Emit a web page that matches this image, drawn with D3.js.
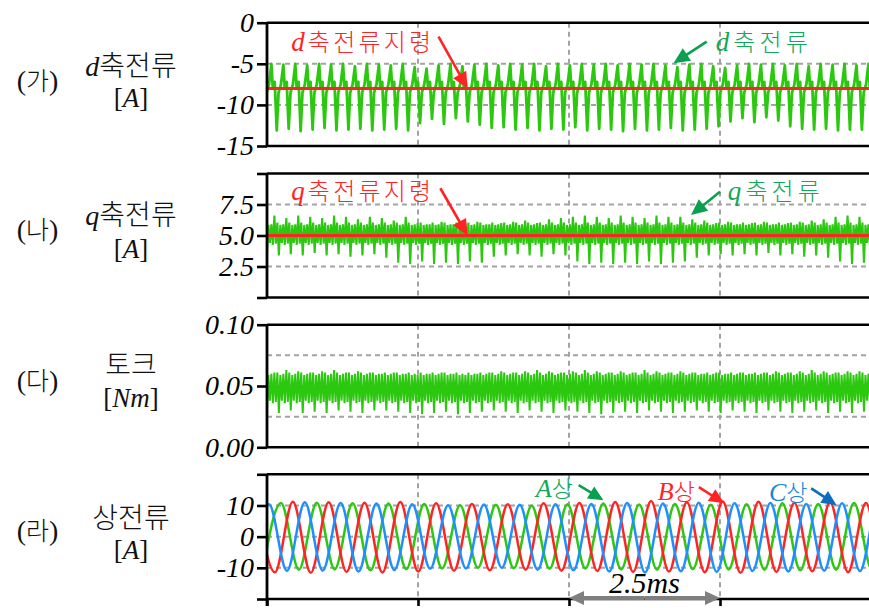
<!DOCTYPE html>
<html>
<head>
<meta charset="utf-8">
<script src="https://cdn.jsdelivr.net/npm/d3@7"></script>
<style>
  body { margin: 0; background: #fff; }
  svg { display: block; }
</style>
</head>
<body>
<svg id="chart" width="869" height="608"></svg>
<script>
// ---- time axis (ms) ----
var timeDomain = [0, 10];
var timeTicks = [0, 2.5, 5, 7.5, 10];
var timeGrid = [2.5, 5, 7.5];

// ripple period and electrical half period (ms)
var rippleMs = 0.1977;
var rippleStartMs = -0.125;
var halfPeriodMs = 0.2965;

// ---- (가) d-axis current [A] ----
var dRef = -8.0;
var dHigh = [-5.2,-5.0,-5.1,-5.0,-5.2,-5.0,-5.1,-5.0,-5.3,-5.0,
             -5.1,-5.2,-5.0,-5.4,-5.6,-5.2,-5.0,-5.3,-5.1,-5.0,
             -5.2,-5.0,-5.1,-5.0,-5.3,-5.0,-5.2,-5.0,-5.1,-5.0,
             -5.2,-5.0,-5.1,-5.0,-5.2,-5.4,-5.1,-5.0,-5.3,-5.5,
             -5.2,-5.0,-5.1,-5.0,-5.2,-5.0,-5.3,-5.0,-5.1,-5.0,
             -5.2,-5.0];
var dLow = [-13.0,-13.1,-12.9,-13.2,-13.0,-12.8,-13.1,-13.0,-12.9,-13.1,
            -13.0,-12.9,-13.1,-12.2,-11.7,-12.3,-11.6,-12.0,-12.4,-12.8,
            -12.7,-13.0,-12.8,-13.1,-12.9,-13.0,-12.7,-13.1,-12.9,-13.0,
            -13.2,-12.9,-13.1,-13.0,-12.8,-13.1,-13.0,-12.9,-12.6,-12.0,
            -11.6,-12.1,-11.5,-11.9,-12.6,-12.9,-13.0,-12.9,-13.1,-13.0,
            -13.0,-12.9];
var dBand = [-8.0, -7.2, -8.5, -7.5];

// ---- (나) q-axis current [A] ----
var qRef = 5.0;
var qHigh = [6.5,6.6,6.4,6.6,6.5,6.4,6.6,6.5,6.3,6.5,
             6.4,6.2,6.5,6.0,5.9,6.1,5.9,6.0,6.1,5.9,
             6.0,6.1,6.2,6.0,6.3,6.4,6.5,6.6,6.5,6.4,
             6.6,6.5,6.4,6.6,6.5,6.5,6.3,6.2,6.0,6.1,
             5.9,6.0,6.1,5.9,6.0,6.1,6.2,6.3,6.5,6.6,
             6.5,6.4];
var qLow = [3.5,3.4,3.5,3.4,3.6,3.4,3.5,3.3,3.4,3.5,
            3.2,2.8,2.7,2.9,2.7,2.8,2.7,2.9,2.8,3.3,
            3.4,3.5,3.4,3.3,3.5,3.4,2.9,2.7,2.8,2.7,
            2.8,2.7,2.9,2.7,2.8,2.9,3.2,3.4,3.5,3.4,
            3.5,3.4,3.6,3.4,3.5,3.3,3.4,3.2,2.9,2.7,
            2.8,2.7];
var qBand = [5.9, 4.25, 4.35, 6.05, 5.85, 4.4];

// ---- (다) torque [Nm] ----
var tqHigh = [0.062,0.061,0.063,0.062,0.061,0.062,0.063,0.061,0.062,0.061,
              0.060,0.061,0.060,0.059,0.060,0.061,0.060,0.059,0.060,0.061,
              0.062,0.061,0.062,0.063,0.062,0.061,0.062,0.063,0.062,0.061,
              0.062,0.061,0.063,0.062,0.061,0.062,0.061,0.060,0.061,0.060,
              0.061,0.060,0.061,0.062,0.061,0.062,0.063,0.062,0.061,0.062,
              0.062,0.061];
var tqLow = [0.029,0.028,0.030,0.028,0.029,0.028,0.030,0.029,0.028,0.030,
             0.030,0.029,0.028,0.027,0.028,0.029,0.027,0.028,0.029,0.030,
             0.029,0.028,0.030,0.029,0.028,0.030,0.029,0.028,0.027,0.028,
             0.029,0.028,0.030,0.029,0.028,0.029,0.030,0.029,0.028,0.030,
             0.029,0.028,0.030,0.029,0.028,0.029,0.030,0.028,0.029,0.028,
             0.029,0.030];
var tqBand = [0.060, 0.036, 0.037, 0.061, 0.059, 0.038];

// ---- (라) phase currents [A]: successive peaks / troughs ----
var phaseStartMs = { A: -0.0655, B: -0.165, C: -0.2635 };
var phaseA = [-10.4,10.8,-10.6,10.9,-10.5,10.7,-10.8,10.6,-10.4,10.5,
              -10.2,10.1,-10.0,10.2,-10.1,9.9,-10.3,10.4,-10.2,10.6,
              -10.5,10.3,-10.6,10.5,-10.4,10.2,-10.5,10.4,-10.6,10.7,
              -10.8,10.5,-10.6,10.8,-10.5,10.6,-10.7];
var phaseB = [10.6,-11.4,11.2,-11.6,11.0,-11.3,10.9,-11.5,11.1,-11.2,
              10.7,-10.9,10.5,-10.8,10.4,-10.6,10.7,-10.9,10.8,-11.0,
              11.1,-11.3,11.4,-11.2,11.0,-11.4,11.3,-11.6,11.2,-11.3,
              10.9,-11.1,11.0,-11.4,10.8,-11.2,11.0];
var phaseC = [-10.8,10.4,-11.0,11.0,-10.9,10.8,-11.2,10.6,-10.7,10.4,
              -10.3,10.1,-10.2,10.3,-10.0,10.2,-10.6,10.4,-10.8,10.5,
              -11.2,10.8,-11.5,10.6,-11.1,10.9,-11.3,10.7,-11.0,10.8,
              -11.2,10.5,-10.9,10.7,-11.0,10.6,-10.8];

var GREEN = "#2cc810", RED = "#ff2424", BLUE = "#1f8fff";
var SERIF = "'Liberation Serif', 'Times New Roman', serif";
var KR = "'Noto Sans CJK KR', sans-serif";

var svg = d3.select("#chart");
var x = d3.scaleLinear().domain(timeDomain).range([267, 871]);

var panels = [
  { id: "p1", domain: [-15, 0], range: [146, 22.7], ticks: [0, -5, -10, -15],
    grid: [-5, -10], fmt: function(d) { return String(d); } },
  { id: "p2", domain: [0, 10], range: [297.5, 173.5], ticks: [10, 7.5, 5, 2.5, 0],
    grid: [7.5, 5, 2.5], fmt: function(d) { return (d === 0 || d === 10) ? "" : d3.format(".1f")(d); } },
  { id: "p3", domain: [0, 0.1], range: [447.3, 324.7], ticks: [0.1, 0.05, 0],
    grid: [0.075, 0.05, 0.025], fmt: d3.format(".2f") },
  { id: "p4", domain: [-20, 20], range: [599, 474.3], ticks: [20, 10, 0, -10, -20],
    grid: [10, 0, -10], fmt: function(d) { return Math.abs(d) === 20 ? "" : String(d); } }
];
panels.forEach(function(p) { p.y = d3.scaleLinear().domain(p.domain).range(p.range); });

function rippleD(high, low, band) {
  var frac = [0, 0.12, 0.28, 0.45, 0.6, 0.8], pts = [];
  high.forEach(function(h, k) {
    var t0 = rippleStartMs + k * rippleMs;
    var vals = [h, band[0], band[1], low[k], band[2], band[3]];
    frac.forEach(function(f, j) { pts.push({ t: t0 + f * rippleMs, v: vals[j] }); });
  });
  return pts;
}
function rippleBand(high, low, band) {
  var pts = [];
  high.forEach(function(h, k) {
    var t0 = rippleStartMs + k * rippleMs;
    var vals = [band[0], band[1], h, band[2], band[3], low[k], band[4], band[5]];
    vals.forEach(function(v, j) { pts.push({ t: t0 + j * rippleMs / 8, v: v }); });
  });
  return pts;
}
function phaseSeries(vals, start) {
  return vals.map(function(v, i) { return { t: start + i * halfPeriodMs, v: v }; });
}

function arrow(g, p1, p2, color, len, w, sw) {
  var dx = p2[0] - p1[0], dy = p2[1] - p1[1], L = Math.hypot(dx, dy);
  var ux = dx / L, uy = dy / L;
  var bx = p2[0] - ux * len, by = p2[1] - uy * len;
  g.append("line").attr("x1", p1[0]).attr("y1", p1[1]).attr("x2", bx + ux).attr("y2", by + uy)
    .attr("stroke", color).attr("stroke-width", sw);
  g.append("path")
    .attr("d", "M" + p2[0] + "," + p2[1] + "L" + (bx - uy * w / 2) + "," + (by + ux * w / 2) +
               "L" + (bx + uy * w / 2) + "," + (by - ux * w / 2) + "Z")
    .attr("fill", color);
}

function mixedText(g, px, py, parts, size, color, anchor, len) {
  var t = g.append("text").attr("x", px).attr("y", py).attr("fill", color)
    .attr("font-size", size).attr("text-anchor", anchor || "start");
  parts.forEach(function(p) {
    var s = t.append("tspan").text(p[0]).attr("font-family", p[1] === "kr" ? KR : SERIF);
    if (p[1] === "kr") s.attr("font-weight", 300);
    if (p[1] === "it") s.attr("font-style", "italic");
    if (p[2]) s.attr("font-size", p[2]);
  });
  if (len) t.attr("textLength", len).attr("lengthAdjust", "spacing");
  return t;
}

var defs = svg.append("defs");

panels.forEach(function(p) {
  var y = p.y, top = p.range[1], bot = p.range[0];
  var g = svg.append("g").attr("class", "panel " + p.id);

  defs.append("clipPath").attr("id", "clip-" + p.id)
    .append("rect").attr("x", x(0)).attr("y", top - 6).attr("width", x(10) - x(0)).attr("height", bot - top + 12);

  // grid
  g.selectAll(".hgrid").data(p.grid).enter().append("line").attr("class", "hgrid")
    .attr("x1", x(0)).attr("x2", x(10)).attr("y1", function(d) { return y(d); }).attr("y2", function(d) { return y(d); })
    .attr("stroke", "#a3a3a3").attr("stroke-width", 2).attr("stroke-dasharray", "5,4");
  g.selectAll(".vgrid").data(timeGrid).enter().append("line").attr("class", "vgrid")
    .attr("x1", function(d) { return x(d); }).attr("x2", function(d) { return x(d); })
    .attr("y1", top).attr("y2", bot)
    .attr("stroke", "#a3a3a3").attr("stroke-width", 2).attr("stroke-dasharray", "5,4");

  var plot = g.append("g").attr("clip-path", "url(#clip-" + p.id + ")");
  var line = d3.line().x(function(d) { return x(d.t); }).y(function(d) { return y(d.v); });

  if (p.id === "p1") {
    plot.append("path").datum(rippleD(dHigh, dLow, dBand)).attr("d", line)
      .attr("fill", "none").attr("stroke", GREEN).attr("stroke-width", 2.8).attr("stroke-linejoin", "round");
    plot.append("path").datum([{ t: 0, v: dRef }, { t: 10, v: dRef }]).attr("d", line)
      .attr("fill", "none").attr("stroke", RED).attr("stroke-width", 3);
  } else if (p.id === "p2") {
    plot.append("path").datum(rippleBand(qHigh, qLow, qBand)).attr("d", line)
      .attr("fill", "none").attr("stroke", GREEN).attr("stroke-width", 2.1);
    plot.append("path").datum([{ t: 0, v: qRef }, { t: 10, v: qRef }]).attr("d", line)
      .attr("fill", "none").attr("stroke", RED).attr("stroke-width", 3);
  } else if (p.id === "p3") {
    plot.append("path").datum(rippleBand(tqHigh, tqLow, tqBand)).attr("d", line)
      .attr("fill", "none").attr("stroke", GREEN).attr("stroke-width", 2);
  } else {
    var smooth = d3.line().curve(d3.curveMonotoneX).x(function(d) { return x(d.t); }).y(function(d) { return y(d.v); });
    [[phaseA, phaseStartMs.A, GREEN], [phaseB, phaseStartMs.B, RED], [phaseC, phaseStartMs.C, BLUE]].forEach(function(s) {
      plot.append("path").datum(phaseSeries(s[0], s[1])).attr("d", smooth)
        .attr("fill", "none").attr("stroke", s[2]).attr("stroke-width", 2.5);
    });
  }

  // frame
  g.selectAll(".frame").data([top, bot]).enter().append("line").attr("class", "frame")
    .attr("x1", x(0)).attr("x2", x(10)).attr("y1", function(d) { return d; }).attr("y2", function(d) { return d; })
    .attr("stroke", "#000").attr("stroke-width", 2.6);
  g.append("line").attr("x1", x(0)).attr("x2", x(0)).attr("y1", top)
    .attr("y2", p.id === "p4" ? bot + 7 : bot).attr("stroke", "#000").attr("stroke-width", 2.8);

  var ax = g.append("g").attr("transform", "translate(" + x(0) + ",0)")
    .call(d3.axisLeft(y).tickValues(p.ticks).tickSize(10).tickPadding(3).tickFormat(p.fmt));
  ax.select(".domain").remove();
  ax.selectAll(".tick line").attr("stroke", "#000").attr("stroke-width", 2.6);
  ax.selectAll(".tick text").attr("font-family", SERIF).attr("font-style", "italic")
    .attr("font-size", 28).attr("fill", "#000");

  if (p.id === "p4") {
    var bx = g.append("g").attr("transform", "translate(0," + bot + ")")
      .call(d3.axisBottom(x).tickValues(timeTicks).tickSize(7).tickFormat(""));
    bx.select(".domain").remove();
    bx.selectAll(".tick line").attr("stroke", "#000").attr("stroke-width", 2.6);
  }
});

// ---- left side labels ----
var lab = svg.append("g");
var sideLabels = [
  { tag: "가", title: [["d", "it", 28], ["축전류", "kr"]], unit: [["[", "s"], ["A", "it"], ["]", "s"]], b: [90, 76, 107] },
  { tag: "나", title: [["q", "it", 28], ["축전류", "kr"]], unit: [["[", "s"], ["A", "it"], ["]", "s"]], b: [239, 225, 258] },
  { tag: "다", title: [["토크", "kr"]], unit: [["[", "s"], ["Nm", "it"], ["]", "s"]], b: [390, 375, 407] },
  { tag: "라", title: [["상전류", "kr"]], unit: [["[", "s"], ["A", "it"], ["]", "s"]], b: [540, 528, 559] }
];
sideLabels.forEach(function(s) {
  mixedText(lab, 37.5, s.b[0], [["(", "s", 28], [s.tag, "kr"], [")", "s", 28]], 25, "#111", "middle");
  mixedText(lab, 131, s.b[1], s.title, 28, "#111", "middle");
  mixedText(lab, 131, s.b[2], s.unit, 27, "#111", "middle");
});

// ---- annotations (positions in data units of each panel) ----
var ann = svg.append("g");
var P1 = panels[0].y, P2 = panels[1].y, P4 = panels[3].y;
var ANN_GREEN = "#12a85a", ANN_BLUE = "#1a86d8";

mixedText(ann, x(0.40), P1(-3.44), [["d", "it", 27], ["축전류지령", "kr"]], 24, RED, "start", 140);
arrow(ann, [x(2.84), P1(-1.7)], [x(3.32), P1(dRef)], RED, 16, 15, 2.6);
mixedText(ann, x(7.43), P1(-3.44), [["d", "it", 27], ["축전류", "kr"]], 24, ANN_GREEN, "start", 92);
arrow(ann, [x(7.28), P1(-2.31)], [x(6.73), P1(-4.94)], "#0aa050", 16, 15, 2.6);

mixedText(ann, x(0.40), P2(7.86), [["q", "it", 27], ["축전류지령", "kr"]], 24, RED, "start", 140);
arrow(ann, [x(2.87), P2(8.81)], [x(3.32), P2(qRef)], RED, 16, 15, 2.6);
mixedText(ann, x(7.63), P2(7.86), [["q", "it", 27], ["축전류", "kr"]], 24, ANN_GREEN, "start", 92);
arrow(ann, [x(7.50), P2(8.53)], [x(7.02), P2(6.65)], "#0aa050", 16, 15, 2.6);

mixedText(ann, x(4.45), P4(12.7), [["A", "it", 26], ["상", "kr"]], 23, ANN_GREEN, "start");
arrow(ann, [x(5.16), P4(16.5)], [x(5.57), P4(11.7)], "#0aa050", 15, 14, 2.6);
mixedText(ann, x(6.47), P4(11.7), [["B", "it", 26], ["상", "kr"]], 23, RED, "start");
arrow(ann, [x(7.15), P4(15.9)], [x(7.57), P4(10.7)], RED, 15, 14, 2.6);
mixedText(ann, x(8.31), P4(11.4), [["C", "it", 26], ["상", "kr"]], 23, ANN_BLUE, "start");
arrow(ann, [x(9.01), P4(15.5)], [x(9.43), P4(10.1)], "#0b6cc0", 15, 14, 2.6);

// 2.5 ms span
var spanY = P4(-19.7);
var mid = (x(5) + x(7.5)) / 2;
arrow(ann, [mid, spanY], [x(7.5), spanY], "#7f7f7f", 15, 14, 4);
arrow(ann, [mid, spanY], [x(5), spanY], "#7f7f7f", 15, 14, 4);
ann.append("text").attr("x", mid).attr("y", P4(-18)).attr("text-anchor", "middle")
  .attr("font-family", SERIF).attr("font-style", "italic").attr("font-size", 30).attr("fill", "#000")
  .text("2.5ms");
</script>
</body>
</html>
